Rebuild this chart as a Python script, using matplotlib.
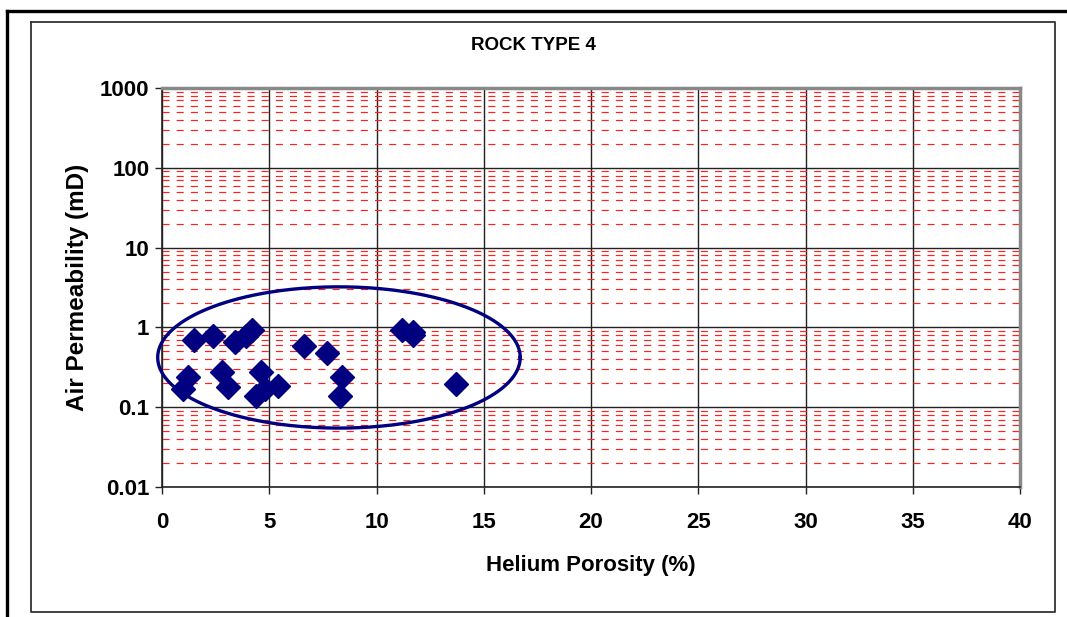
import numpy as np
import matplotlib
matplotlib.use('Agg')
import matplotlib.pyplot as plt
from matplotlib.ticker import LogLocator, FixedLocator, FuncFormatter, NullFormatter
from matplotlib.lines import Line2D

plt.rcParams['font.family'] = ['Liberation Sans', 'DejaVu Sans']

# helium porosity (%) and air permeability (mD)
porosity = [1.5, 2.4, 3.4, 3.9, 4.2, 6.6, 7.7, 11.2, 11.7, 11.7,
            1.2, 1.0, 2.8, 3.1, 4.6, 4.4, 4.8, 5.4, 8.4, 8.3, 13.7]
permeability = [0.70, 0.78, 0.66, 0.78, 0.93, 0.58, 0.48, 0.92, 0.88, 0.80,
                0.24, 0.17, 0.28, 0.18, 0.28, 0.14, 0.17, 0.185, 0.24, 0.14, 0.195]

# ellipse drawn round the group (centre, half width in %, half height in decades)
ell_x, ell_y = 8.25, 0.42
ell_a, ell_b = 8.45, 0.885

x_ticks = [0, 5, 10, 15, 20, 25, 30, 35, 40]
y_ticks = [0.01, 0.1, 1, 10, 100, 1000]

fig = plt.figure(figsize=(10.67, 6.17), dpi=100)
W, H = 1067, 617

# frames around the chart
fig.add_artist(Line2D([7 / W, 7 / W], [0, 1 - 11 / H], transform=fig.transFigure, color='black', lw=2.4))
fig.add_artist(Line2D([7 / W, 1], [1 - 11 / H, 1 - 11 / H], transform=fig.transFigure, color='black', lw=2.4))
bx = [31 / W, 1055 / W, 1055 / W, 31 / W, 31 / W]
by = [1 - 22 / H, 1 - 22 / H, 1 - 612 / H, 1 - 612 / H, 1 - 22 / H]
fig.add_artist(Line2D(bx, by, transform=fig.transFigure, color='#333333', lw=1.3))

ax = fig.add_axes([162 / W, 1 - 487 / H, (1020 - 162) / W, (487 - 88) / H])
ax.set_yscale('log')
ax.set_xlim(0, 40)
ax.set_ylim(0.01, 1000)

ax.xaxis.set_major_locator(FixedLocator(x_ticks))
ax.yaxis.set_major_locator(FixedLocator(y_ticks))
ax.yaxis.set_minor_locator(LogLocator(base=10, subs=np.arange(2, 10)))
ax.yaxis.set_minor_formatter(NullFormatter())
ax.yaxis.set_major_formatter(FuncFormatter(lambda v, p: ('%g' % v)))

ax.grid(True, which='major', axis='both', color='#222222', lw=1.0)
ax.grid(True, which='minor', axis='y', color='#ff2020', lw=0.85, ls=(0, (6, 6)))
ax.set_axisbelow(True)

for s in ['top', 'right']:
    ax.spines[s].set_color('#888888')
    ax.spines[s].set_linewidth(2.5)
for s in ['left', 'bottom']:
    ax.spines[s].set_color('#222222')
    ax.spines[s].set_linewidth(1.2)

ax.tick_params(axis='both', which='major', length=5, width=1, color='#222222',
               labelsize=16)
ax.tick_params(axis='x', which='major', pad=13)
ax.tick_params(axis='y', which='major', pad=4)
ax.tick_params(axis='y', which='minor', length=0)
for lab in ax.get_xticklabels() + ax.get_yticklabels():
    lab.set_fontweight('bold')

ax.plot(porosity, permeability, linestyle='none', marker='D', markersize=12.5,
        color='#000080', zorder=3, clip_on=False)

t = np.linspace(0, 2 * np.pi, 400)
ex = ell_x + ell_a * np.cos(t)
ey = 10 ** (np.log10(ell_y) + ell_b * np.sin(t))
ax.plot(ex, ey, color='#000080', lw=2.4, zorder=4, clip_on=False)

ax.set_xlabel('Helium Porosity (%)', fontsize=16, fontweight='bold', labelpad=16)
ax.set_ylabel('Air Permeability (mD)', fontsize=17.5, fontweight='bold', labelpad=8)

fig.text(533 / W, 1 - 45 / H, 'ROCK TYPE 4', ha='center', va='center',
         fontsize=13.5, fontweight='bold',
         family=['Liberation Sans Narrow', 'Liberation Sans', 'DejaVu Sans'])

fig.savefig('out.png', dpi=100)
